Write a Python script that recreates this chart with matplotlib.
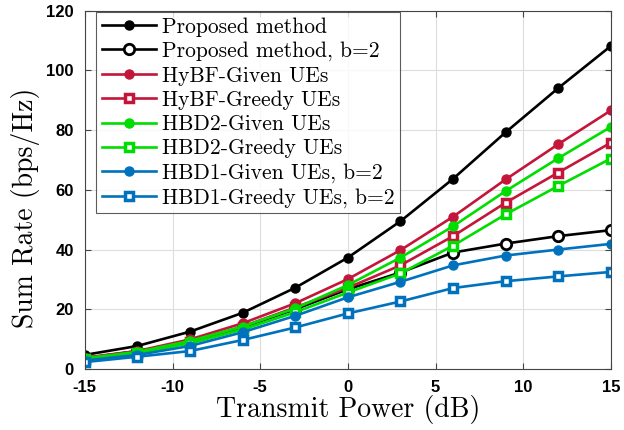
import numpy as np
import matplotlib.pyplot as plt

plt.rcParams['axes.unicode_minus'] = False

# transmit power (dB)
power = [-15, -12, -9, -6, -3, 0, 3, 6, 9, 12, 15]

prop = [4.7, 7.7, 12.5, 18.8, 27.2, 37.3, 49.5, 63.7, 79.3, 94.1, 108.2]
prop_b2 = [3.6, 6.0, 9.0, 14.0, 20.0, 26.7, 32.3, 39.0, 42.0, 44.5, 46.5]
hybf_given = [3.8, 6.0, 9.9, 15.3, 22.0, 30.1, 39.8, 51.0, 63.5, 75.3, 86.6]
hybf_greedy = [3.4, 5.5, 9.1, 14.2, 20.6, 27.2, 34.7, 44.5, 55.7, 65.8, 75.8]
hbd2_given = [3.6, 5.7, 9.4, 14.2, 20.3, 28.1, 37.3, 47.8, 59.6, 70.6, 81.1]
hbd2_greedy = [3.2, 5.3, 8.6, 13.2, 19.0, 25.6, 32.0, 41.3, 51.8, 61.3, 70.5]
hbd1_given = [2.8, 4.7, 7.7, 12.3, 17.8, 24.0, 29.2, 34.7, 38.0, 40.0, 41.9]
hbd1_greedy = [2.3, 4.1, 6.0, 9.7, 13.9, 18.6, 22.6, 27.1, 29.4, 31.0, 32.5]

labels = ['Proposed method', 'Proposed method, b=2', 'HyBF-Given UEs',
          'HyBF-Greedy UEs', 'HBD2-Given UEs', 'HBD2-Greedy UEs',
          'HBD1-Given UEs, b=2', 'HBD1-Greedy UEs, b=2']

black = 'black'
red = '#C4153A'
green = '#00DD00'
blue = '#0072BD'

fig = plt.figure(figsize=(6.24, 4.30), dpi=100)
ax = fig.add_axes([0.136, 0.142, 0.843, 0.833])

lw = 1.9
sq = dict(marker='s', ms=5.5, mfc='white', mew=2.5)
ax.plot(power, prop, color=black, lw=lw, marker='o', ms=6.5, label=labels[0])
ax.plot(power, prop_b2, color=black, lw=lw, marker='o', ms=7.5, mfc='white', mew=2, label=labels[1])
ax.plot(power, hybf_given, color=red, lw=lw, marker='o', ms=6.5, label=labels[2])
ax.plot(power, hybf_greedy, color=red, lw=lw, label=labels[3], **sq)
ax.plot(power, hbd2_given, color=green, lw=lw, marker='o', ms=6.5, label=labels[4])
ax.plot(power, hbd2_greedy, color=green, lw=lw, label=labels[5], **sq)
ax.plot(power, hbd1_given, color=blue, lw=lw, marker='o', ms=6.5, label=labels[6])
ax.plot(power, hbd1_greedy, color=blue, lw=lw, label=labels[7], **sq)

ax.set_xlim(-15, 15)
ax.set_ylim(0, 120)
ax.set_xticks([-15, -10, -5, 0, 5, 10, 15])
ax.set_yticks([0, 20, 40, 60, 80, 100, 120])
ax.grid(True, color='#DDDDDD', lw=0.8)
ax.set_axisbelow(True)
ax.tick_params(direction='in', top=True, right=True, length=4, color='#444444', pad=8)
for t in ax.get_xticklabels() + ax.get_yticklabels():
    t.set_fontfamily('Liberation Sans')
    t.set_fontweight('bold')
    t.set_fontsize(12)
for s in ax.spines.values():
    s.set_color('#444444')
    s.set_linewidth(0.8)

ax.set_xlabel('Transmit Power (dB)', fontfamily='cmr10', fontsize=20, labelpad=0)
ax.set_ylabel('Sum Rate (bps/Hz)', fontfamily='cmr10', fontsize=20, labelpad=2)
ax.yaxis.set_label_coords(-0.085, 0.45)

leg = ax.legend(loc='upper left', bbox_to_anchor=(0.02, 1.0),
                prop={'family': 'cmr10', 'size': 15.5},
                frameon=True, fancybox=False, edgecolor='#333333',
                borderaxespad=0.05, handlelength=2.5, labelspacing=0.22,
                borderpad=0.25, handletextpad=0.3)
leg.get_frame().set_linewidth(0.8)

plt.savefig('out.png', dpi=100)
